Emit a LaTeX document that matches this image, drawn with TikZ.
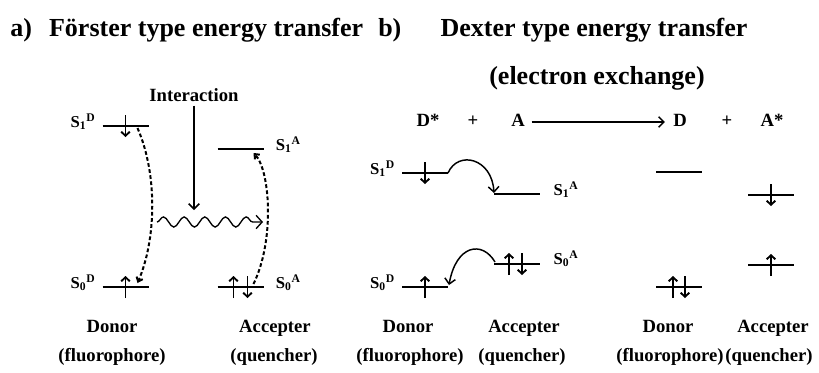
\documentclass[tikz,border=0pt]{standalone}
\usepackage{fontspec}
\setmainfont{Liberation Serif}
\usepackage{tikz}
\usetikzlibrary{arrows.meta, positioning, calc, decorations.pathmorphing}
\tikzset{
    ettitle/.style={font=\bfseries\fontsize{19.5}{22}\selectfont, inner sep=0pt},
    etlabel/.style={font=\bfseries\fontsize{14}{16}\selectfont, inner sep=0pt, text height=9.5pt, text depth=3pt},
    etstate/.style={font=\bfseries\fontsize{12.5}{14}\selectfont, inner sep=0pt},
    etlevel/.style={minimum width=34.5pt, minimum height=0pt, inner sep=0pt, outer sep=0pt},
    etline/.style={line width=1.6pt},
    etspin/.style={-{Straight Barb[length=3pt,width=6.5pt]}, line width=1.4pt},
    etarrow/.style={-{Straight Barb[length=4pt,width=8pt]}, line width=1.1pt},
    etdash/.style={-{Straight Barb[length=3pt,width=5pt]}, line width=1.5pt, dash pattern=on 2.8pt off 1.8pt},
    etwave/.style={-{Straight Barb[length=4.5pt,width=10pt]}, line width=1pt, decorate, decoration={snake, amplitude=3.8pt, segment length=15.5pt, post length=4pt}}
}

\begin{document}
\begin{tikzpicture}[x=0.75pt, y=-0.75pt]
\useasboundingbox (0,0) rectangle (819,372);

\node[ettitle, anchor=west] (ta) at (10,30) {a)\hspace{0.66em}Förster type energy transfer};
\node[ettitle, anchor=west] (tb) at (378,30) {b)};
\node[ettitle] (tdex) at (594,30) {Dexter type energy transfer};
\node[ettitle] (texc) at (597,78) {(electron exchange)};

\node[etlevel] (s1d) at (125.5,126) {};
\node[etlevel] (s0d) at (125.5,287) {};
\node[etlevel] (s1a) at (240.5,149) {};
\node[etlevel] (s0a) at (240.5,287) {};
\node[etstate, left=5pt of s1d, yshift=3pt] (ls1d) {S\textsubscript{1}\textsuperscript{D}};
\node[etstate, left=5pt of s0d, yshift=3pt] (ls0d) {S\textsubscript{0}\textsuperscript{D}};
\node[etstate, right=9pt of s1a, yshift=3pt] (ls1a) {S\textsubscript{1}\textsuperscript{A}};
\node[etstate, right=9pt of s0a, yshift=3pt] (ls0a) {S\textsubscript{0}\textsuperscript{A}};
\node[etlabel] (inter) at (194,97) {Interaction};
\coordinate (hit) at (194,210);
\coordinate (wa) at (157,222);
\coordinate (wb) at (263,222);

\node[etlabel] (ds) at (428,122) {D*};
\node[etlabel] (p1) at (473,122) {+};
\node[etlabel] (ra) at (518,122) {A};
\node[etlabel] (rd) at (680,122) {D};
\node[etlabel] (p2) at (727,122) {+};
\node[etlabel] (as) at (772,122) {A*};

\node[etlevel] (bs1d) at (425,173) {};
\node[etlevel] (bs0d) at (425,287) {};
\node[etlevel] (bs1a) at (517,194) {};
\node[etlevel] (bs0a) at (517,264) {};
\node[etstate, left=5pt of bs1d, yshift=3pt] (lb1d) {S\textsubscript{1}\textsuperscript{D}};
\node[etstate, left=5pt of bs0d, yshift=3pt] (lb0d) {S\textsubscript{0}\textsuperscript{D}};
\node[etstate, right=10pt of bs1a, yshift=3pt] (lb1a) {S\textsubscript{1}\textsuperscript{A}};
\node[etstate, right=10pt of bs0a, yshift=4pt] (lb0a) {S\textsubscript{0}\textsuperscript{A}};

\node[etlevel] (cs1d) at (679,172) {};
\node[etlevel] (cs0d) at (679,287) {};
\node[etlevel] (cs1a) at (771,195) {};
\node[etlevel] (cs0a) at (771,265) {};

\node[etlabel] (dona) at (112,328) {Donor};
\node[etlabel] (flua) at (112,357) {(fluorophore)};
\node[etlabel] (acca) at (275,328) {Accepter};
\node[etlabel] (quea) at (274,357) {(quencher)};
\node[etlabel] (donb) at (408,328) {Donor};
\node[etlabel] (flub) at (410,357) {(fluorophore)};
\node[etlabel] (accb) at (524,328) {Accepter};
\node[etlabel] (queb) at (522,357) {(quencher)};
\node[etlabel] (donc) at (668,328) {Donor};
\node[etlabel] (fluc) at (670,357) {(fluorophore)};
\node[etlabel] (accc) at (773,328) {Accepter};
\node[etlabel] (quec) at (769,357) {(quencher)};

\foreach \n in {s1d,s0d,s1a,s0a,bs1d,bs0d,bs1a,bs0a,cs1d,cs0d,cs1a,cs0a}
    \draw[etline] (\n.west) -- (\n.east);
\foreach \n/\dx in {s0d/0, s0a/-7, bs0d/0, bs0a/-8, cs0d/-6, cs0a/0}
    \draw[etspin] ($(\n)+(\dx,11)$) -- ++(0,-22);
\foreach \n/\dx in {s1d/0, s0a/7, bs1d/0, bs0a/5, cs0d/6, cs1a/0}
    \draw[etspin] ($(\n)+(\dx,-11)$) -- ++(0,22);

\draw[etarrow] (inter) -- (hit);
\draw[etwave] (wa) -- (wb);
\draw[etdash] ($(s1d.east)+(-11,2)$) .. controls (158,175) and (156,240) .. ($(s0d.east)+(-11,-4)$);
\draw[etdash] ($(s0a.east)+(-10,-3)$) .. controls (275,240) and (270,170) .. ($(s1a.east)+(-10,4)$);

\draw[etarrow, shorten <=5pt, shorten >=6pt] (ra) -- (rd);
\draw[etarrow] (bs1d.east) .. controls (458,150) and (492,158) .. ($(bs1a.west)+(0,-1)$);
\draw[etarrow] ($(bs0a.west)+(1,-2)$) .. controls (482,240) and (456,245) .. ($(bs0d.east)+(1,-2)$);

\end{tikzpicture}
\end{document}
